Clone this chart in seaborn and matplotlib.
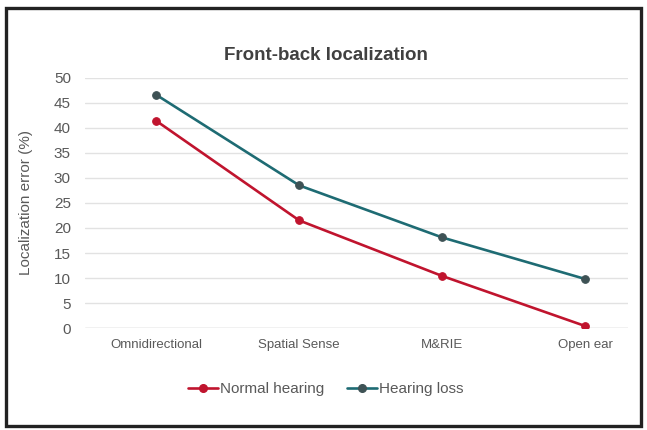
import pandas as pd
import seaborn as sns
import matplotlib.pyplot as plt
from matplotlib.patches import Rectangle

sns.set_style('white')
plt.rcParams['font.family'] = ['Liberation Sans', 'DejaVu Sans']

categories = ['Omnidirectional', 'Spatial Sense', 'M&RIE', 'Open ear']
normal_hearing = [41.4, 21.5, 10.4, 0.4]
hearing_loss = [46.6, 28.5, 18.1, 9.8]
series = ['Normal hearing', 'Hearing loss']
yticks = [0, 5, 10, 15, 20, 25, 30, 35, 40, 45, 50]

df = pd.DataFrame({
    'device': categories * 2,
    'error': normal_hearing + hearing_loss,
    'group': [series[0]] * 4 + [series[1]] * 4,
})

line_colors = {'Normal hearing': '#C0142E', 'Hearing loss': '#1E6B73'}
marker_colors = {'Normal hearing': '#C0142E', 'Hearing loss': '#3E5255'}
text_color = '#595959'

fig = plt.figure(figsize=(6.47, 4.30), dpi=100)
ax = fig.add_axes([0.131, 0.237, 0.84, 0.582])

sns.lineplot(data=df, x='device', y='error', hue='group', palette=line_colors,
             marker='o', markersize=5.5, linewidth=1.9, sort=False,
             legend=False, ax=ax)

for line, name in zip(ax.lines, series):
    line.set_markerfacecolor(marker_colors[name])
    line.set_markeredgecolor(marker_colors[name])

ax.set_ylim(0, 50)
ax.set_xlim(-0.5, 3.3)
ax.set_yticks(yticks)
ax.yaxis.grid(True, color='#E2E2E2', linewidth=1.0)
ax.set_axisbelow(True)
for s in ax.spines.values():
    s.set_visible(False)
ax.axhline(0, color='#D0D0D0', linewidth=1.0, zorder=0)

ax.tick_params(axis='y', labelsize=11, colors=text_color, length=0, pad=10)
ax.tick_params(axis='x', labelsize=9.5, colors=text_color, length=0, pad=8)
ax.set_xlabel('')
ax.set_ylabel('Localization error (%)', fontsize=11, color=text_color, labelpad=15)

fig.text(0.503, 0.872, 'Front-back localization', ha='center', va='center',
         fontsize=13.5, fontweight='bold', color='#404040')

handles = [plt.Line2D([], [], color=line_colors[n], marker='o', markersize=5.5,
                      markerfacecolor=marker_colors[n], markeredgecolor=marker_colors[n],
                      linewidth=1.9) for n in series]
fig.legend(handles, series, loc='center', bbox_to_anchor=(0.503, 0.095), ncol=2,
           frameon=False, fontsize=11, labelcolor=text_color, handlelength=2.0,
           handletextpad=0.1, columnspacing=1.5)

fig.patches.append(Rectangle((0.009, 0.01), 0.981, 0.972, transform=fig.transFigure,
                             fill=False, edgecolor='#222222', linewidth=2.4))

fig.savefig('out.png', dpi=100)
